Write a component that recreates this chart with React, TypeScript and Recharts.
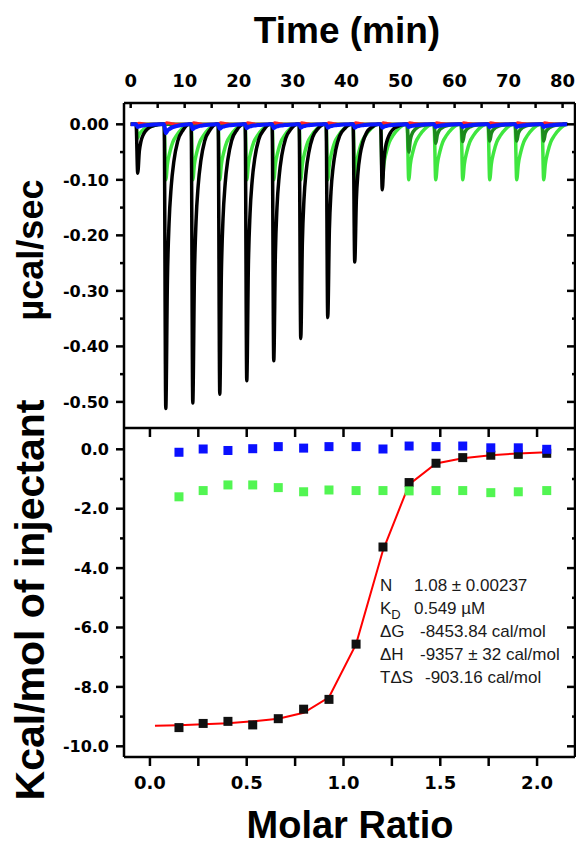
import React from 'react';
import { LineChart, ComposedChart, Line, Scatter, XAxis, YAxis } from 'recharts';

// raw thermogram: injection times (min) and peak heights (µcal/sec)
const injectionTimes = [1.3, 6.5, 11.5, 16.5, 21.5, 26.5, 31.5, 36.5, 41.5, 46.6, 51.5, 56.5, 61.5, 66.5, 71.5, 76.5];
const samplePeaks = [-0.088, -0.512, -0.502, -0.486, -0.462, -0.426, -0.386, -0.348, -0.248, -0.118, 0, 0, 0, 0, 0, 0];
const saturatedPeaks = [0, 0, 0, 0, 0, 0, 0, 0, 0, 0, -0.05, -0.034, -0.031, -0.03, -0.03, -0.03];
const bufferPeaks = [-0.025, -0.1, -0.1, -0.1, -0.1, -0.1, -0.1, -0.1, -0.1, -0.1, -0.1, -0.1, -0.1, -0.1, -0.1, -0.1];
const controlPeaks = [-0.005, -0.016, -0.009, -0.008, -0.007, -0.007, -0.006, -0.006, -0.006, -0.006, -0.005, -0.005, -0.005, -0.005, -0.005, -0.005];
const baselineBumps = [0.002, 0.003, 0.003, 0.003, 0.003, 0.003, 0.003, 0.003, 0.003, 0.003, 0.003, 0.003, 0.003, 0.003, 0.003, 0.003];

// peak profiles: [minutes after injection, share of peak height]
const sampleShape = [[-0.3, 0], [0, 1], [0.3, 0.55], [0.6, 0.35], [1.0, 0.22], [1.5, 0.13], [2.2, 0.06], [3.2, 0.02], [4.3, 0]];
const bufferShape = [[-0.3, 0], [0, 1], [0.3, 0.72], [0.75, 0.5], [1.3, 0.32], [2.0, 0.2], [3.0, 0.08], [4.4, 0]];
const bumpShape = [[-0.2, 0], [0.2, 1], [1.0, 0.5], [1.8, 0]];

const timeTicks = [0, 5, 10, 15, 20, 25, 30, 35, 40, 45, 50, 55, 60, 65, 70, 75, 80];
const powerTicks = [0, -0.05, -0.1, -0.15, -0.2, -0.25, -0.3, -0.35, -0.4, -0.45, -0.5];

// integrated heats (kcal/mol of injectant)
const molarRatio = [0.15, 0.275, 0.403, 0.531, 0.663, 0.794, 0.925, 1.065, 1.204, 1.339, 1.478, 1.616, 1.761, 1.903, 2.05];
const sampleHeats = [-9.37, -9.23, -9.16, -9.28, -9.07, -8.75, -8.42, -6.56, -3.29, -1.12, -0.47, -0.28, -0.2, -0.17, -0.135];
const bufferHeats = [-1.6, -1.39, -1.2, -1.2, -1.29, -1.43, -1.37, -1.39, -1.39, -1.4, -1.39, -1.39, -1.46, -1.43, -1.39];
const controlHeats = [-0.1, 0.01, -0.04, 0.02, 0.09, 0.04, 0.09, 0.09, 0.01, 0.11, 0.09, 0.11, 0.05, 0.05, 0.0];
const fitRatio = [0.026, 0.15, 0.275, 0.403, 0.531, 0.663, 0.794, 0.925, 1.065, 1.204, 1.339, 1.478, 1.616, 1.761, 1.903, 2.05];
const fitHeats = [-9.31, -9.29, -9.26, -9.22, -9.16, -9.07, -8.87, -8.35, -6.56, -3.4, -1.18, -0.48, -0.3, -0.2, -0.14, -0.1];

const ratioTicks = [0, 0.25, 0.5, 0.75, 1, 1.25, 1.5, 1.75, 2];
const heatTicks = [0, -1, -2, -3, -4, -5, -6, -7, -8, -9, -10];

const fitParams = [
  ['N', '1.08 ± 0.00237', 414],
  ['K', '0.549 µM', 414],
  ['ΔG', '-8453.84 cal/mol', 420],
  ['ΔH', '-9357 ± 32 cal/mol', 420],
  ['TΔS', '-903.16 cal/mol', 425],
];

function buildTrace(peaks: number[], shape: number[][]) {
  const pts = [{ t: 0, v: 0 }];
  injectionTimes.forEach((t0, i) => {
    shape.forEach(([dt, f]) => pts.push({ t: +(t0 + dt).toFixed(2), v: peaks[i] * f }));
  });
  pts.push({ t: 80, v: 0 });
  return pts;
}

const sampleTrace = buildTrace(samplePeaks, sampleShape);
const saturatedTrace = buildTrace(saturatedPeaks, sampleShape);
const bufferTrace = buildTrace(bufferPeaks, bufferShape);
const controlTrace = buildTrace(controlPeaks, bufferShape);
const baselineTrace = buildTrace(baselineBumps, bumpShape);

const toPoints = (xs: number[], ys: number[]) => xs.map((x, i) => ({ x, y: ys[i] }));
const samplePts = toPoints(molarRatio, sampleHeats);
const bufferPts = toPoints(molarRatio, bufferHeats);
const controlPts = toPoints(molarRatio, controlHeats);
const fitPts = toPoints(fitRatio, fitHeats);

const W = 582;
const tickFont = { fontFamily: 'DejaVu Sans', fontWeight: 700, fill: '#000' };
const frame = { stroke: '#000', strokeWidth: 2.5 };
const isMajor = (v: number, step: number) => Math.abs(Math.round(v / step) * step - v) < 1e-6;

const TopTimeTick = (p: any) => {
  const v = p.payload.value;
  return (
    <g>
      <line x1={p.x} x2={p.x} y1={p.y} y2={p.y + 5} stroke="#000" strokeWidth={2.5} />
      {isMajor(v, 10) && (
        <text x={p.x} y={p.y - 16} textAnchor="middle" fontSize={18} {...tickFont}>{v}</text>
      )}
    </g>
  );
};

const LeftTick = (step: number, digits: number) => (p: any) => {
  const v = p.payload.value;
  const major = isMajor(v, step);
  return (
    <g>
      <line x1={p.x} x2={p.x - (major ? 8 : 4)} y1={p.y} y2={p.y} stroke="#000" strokeWidth={2.5} />
      {major && (
        <text x={p.x - 15} y={p.y} dy="0.36em" textAnchor="end" fontSize={16} {...tickFont}>{v.toFixed(digits)}</text>
      )}
    </g>
  );
};

const RightTick = (step: number) => (p: any) => {
  const major = isMajor(p.payload.value, step);
  return <line x1={p.x} x2={p.x - (major ? 8 : 3)} y1={p.y} y2={p.y} stroke="#000" strokeWidth={2.5} />;
};

const RatioTick = (p: any) => {
  const v = p.payload.value;
  return (
    <g>
      <line x1={p.x} x2={p.x} y1={p.y} y2={p.y + 9} stroke="#000" strokeWidth={2.5} />
      {isMajor(v, 0.5) && (
        <text x={p.x} y={p.y + 32} textAnchor="middle" fontSize={18} {...tickFont}>{v.toFixed(1)}</text>
      )}
    </g>
  );
};

const InTickDown = (p: any) => (
  <line x1={p.x} x2={p.x} y1={p.y} y2={p.y + 9} stroke="#000" strokeWidth={2.5} />
);

const square = (color: string) => (p: any) => (
  <rect x={p.cx - 4.5} y={p.cy - 4.5} width={9} height={9} fill={color} />
);

function ThermogramPanel() {
  const tDomain = [-1.24, 82.3];
  const pDomain = [-0.547, 0.0384];
  const trace = (data: any[], color: string, width: number) => (
    <Line xAxisId="t" yAxisId="p" data={data} dataKey="v" type="monotone" stroke={color}
      strokeWidth={width} dot={false} isAnimationActive={false} />
  );
  return (
    <LineChart width={W} height={429} margin={{ top: 0, right: 0, bottom: 0, left: 0 }}>
      <XAxis xAxisId="t" orientation="top" type="number" dataKey="t" domain={tDomain} allowDataOverflow
        ticks={timeTicks} interval={0} tickSize={0} tickMargin={0} tick={TopTimeTick} height={103} axisLine={frame} />
      <XAxis xAxisId="tb" orientation="bottom" type="number" dataKey="t" domain={tDomain} allowDataOverflow
        ticks={[]} tick={false} tickLine={false} height={1} axisLine={frame} />
      <YAxis yAxisId="p" type="number" dataKey="v" domain={pDomain} allowDataOverflow
        ticks={powerTicks} interval={0} tickSize={0} tickMargin={0} tick={LeftTick(0.1, 2)} width={124} axisLine={frame} />
      <YAxis yAxisId="pr" orientation="right" type="number" dataKey="v" domain={pDomain} allowDataOverflow
        ticks={powerTicks} interval={0} tickSize={0} tickMargin={0} tick={RightTick(0.1)} width={W - 575} axisLine={frame} />
      {trace(bufferTrace, '#3fe63f', 3.5)}
      {trace(saturatedTrace, '#1c8a1c', 3.5)}
      {trace(sampleTrace, '#000', 3.5)}
      {trace(baselineTrace, '#ff2020', 3)}
      {trace(controlTrace, '#0a18ff', 4)}
    </LineChart>
  );
}

function IsothermPanel() {
  const xDomain = [-0.134, 2.196];
  const yDomain = [-10.36, 0.717];
  return (
    <ComposedChart width={W} height={420} margin={{ top: 0, right: 0, bottom: 0, left: 0 }}>
      <XAxis xAxisId="m" orientation="bottom" type="number" dataKey="x" domain={xDomain} allowDataOverflow
        ticks={ratioTicks} interval={0} tickSize={0} tickMargin={0} tick={RatioTick} height={90} axisLine={frame} />
      <XAxis xAxisId="mt" orientation="top" type="number" dataKey="x" domain={xDomain} allowDataOverflow
        ticks={ratioTicks} interval={0} tickSize={0} tickMargin={0} tick={InTickDown} height={1} axisLine={frame} />
      <YAxis yAxisId="h" type="number" dataKey="y" domain={yDomain} allowDataOverflow
        ticks={heatTicks} interval={0} tickSize={0} tickMargin={0} tick={LeftTick(2, 1)} width={124} axisLine={frame} />
      <YAxis yAxisId="hr" orientation="right" type="number" dataKey="y" domain={yDomain} allowDataOverflow
        ticks={heatTicks} interval={0} tickSize={0} tickMargin={0} tick={RightTick(2)} width={W - 575} axisLine={frame} />
      <Scatter xAxisId="m" yAxisId="h" data={samplePts} dataKey="y" shape={square('#111')} isAnimationActive={false} />
      <Line xAxisId="m" yAxisId="h" data={fitPts} dataKey="y" type="linear" stroke="#ff0000"
        strokeWidth={2} dot={false} isAnimationActive={false} />
      <Scatter xAxisId="m" yAxisId="h" data={controlPts} dataKey="y" shape={square('#0a10ff')} isAnimationActive={false} />
      <Scatter xAxisId="m" yAxisId="h" data={bufferPts} dataKey="y" shape={square('#52f552')} isAnimationActive={false} />
    </ComposedChart>
  );
}

export default function App() {
  const titleFont = { fontFamily: 'Liberation Sans, Arial, sans-serif', fontWeight: 700, fill: '#000' };
  const noteFont = { fontFamily: 'Liberation Sans, Arial, sans-serif', fontSize: 17, fill: '#1a1a1a' };
  return (
    <div style={{ position: 'absolute', left: 0, top: 0, width: 576, height: 847, overflow: 'hidden', background: '#fff' }}>
      <div style={{ position: 'absolute', left: 0, top: 0 }}>
        <ThermogramPanel />
      </div>
      <div style={{ position: 'absolute', left: 0, top: 427 }}>
        <IsothermPanel />
      </div>
      <svg width={576} height={847} style={{ position: 'absolute', left: 0, top: 0, pointerEvents: 'none' }}>
        <text x={347} y={43} textAnchor="middle" fontSize={37} {...titleFont}>Time (min)</text>
        <text x={350} y={838} textAnchor="middle" fontSize={38} {...titleFont}>Molar Ratio</text>
        <text x={43} y={250} textAnchor="middle" fontSize={36} transform="rotate(-90 43 250)" {...titleFont}>µcal/sec</text>
        <text x={44} y={600} textAnchor="middle" fontSize={41} transform="rotate(-90 44 600)" {...titleFont}>Kcal/mol of injectant</text>
        {fitParams.map(([label, value, vx], i) => (
          <g key={i}>
            <text x={380} y={591 + i * 23} {...noteFont}>
              {label}
              {label === 'K' && <tspan fontSize={13} dy={5}>D</tspan>}
            </text>
            <text x={vx as number} y={591 + i * 23} {...noteFont}>{value}</text>
          </g>
        ))}
      </svg>
    </div>
  );
}
